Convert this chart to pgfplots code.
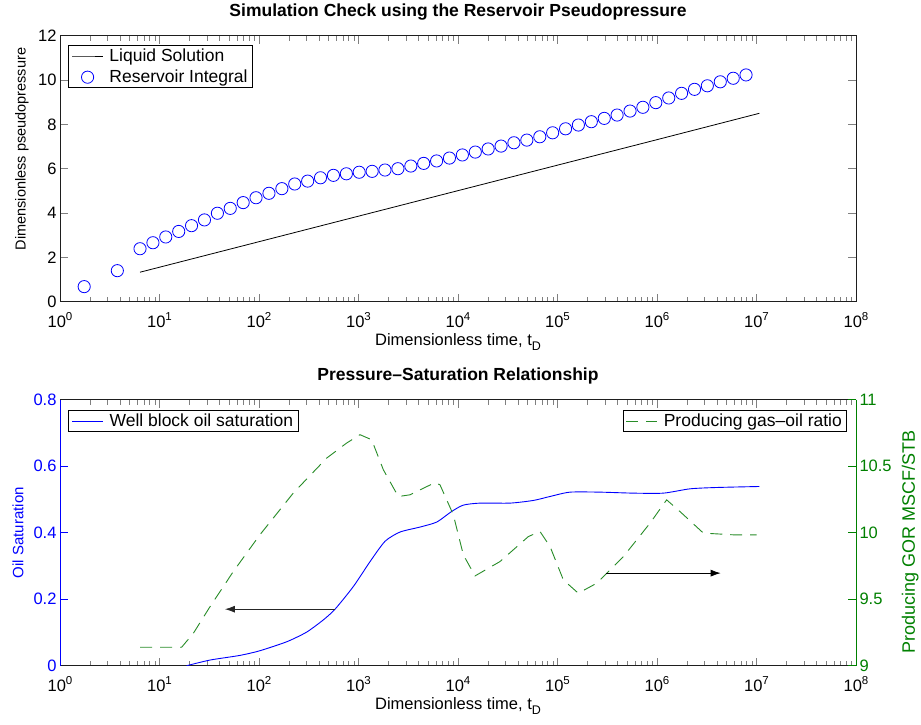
\documentclass[border=0pt]{standalone}
\usepackage{fontspec}
\setmainfont{Liberation Sans}
\usepackage{pgfplots}
\pgfplotsset{compat=1.18}
\usetikzlibrary{arrows.meta}

\definecolor{gorgreen}{RGB}{0,128,0}
\definecolor{gorline}{RGB}{40,140,40}
\definecolor{satblue}{RGB}{0,0,255}
\definecolor{axisgray}{RGB}{30,30,30}

\newcommand\tickfont{\fontsize{16.5}{19}\selectfont}
\newcommand\legfont{\fontsize{17.5}{20}\selectfont}
\newcommand\titlefont{\bfseries\fontsize{17.5}{20}\selectfont}
\newcommand\xlabfont{\fontsize{16.5}{19}\selectfont}
\newcommand\dec[1]{10\raisebox{0.45em}{\fontsize{11.5}{12}\selectfont #1}}
\newcommand\tD{t\raisebox{-0.32em}{\fontsize{12.5}{13}\selectfont D}}

% Shared settings of the three log-time axes
\pgfplotsset{
  every axis/.append style={
    scale only axis, width=796pt, height=266pt,
    xmode=log, xmin=1, xmax=1e8,
    xtick={1,10,100,1000,1e4,1e5,1e6,1e7,1e8},
    xticklabels={\dec{0},\dec{1},\dec{2},\dec{3},\dec{4},\dec{5},\dec{6},\dec{7},\dec{8}},
    minor xtick={2,3,4,5,6,7,8,9,
      20,30,40,50,60,70,80,90,
      200,300,400,500,600,700,800,900,
      2000,3000,4000,5000,6000,7000,8000,9000,
      2e4,3e4,4e4,5e4,6e4,7e4,8e4,9e4,
      2e5,3e5,4e5,5e5,6e5,7e5,8e5,9e5,
      2e6,3e6,4e6,5e6,6e6,7e6,8e6,9e6,
      2e7,3e7,4e7,5e7,6e7,7e7,8e7,9e7},
    /pgf/number format/assume math mode=true,
    tick label style={font=\tickfont},
    xticklabel style={anchor=base, yshift=-26pt},
    major tick length=8pt, minor tick length=5pt,
    tick style={line width=0.8pt},
    axis line style={line width=0.9pt, axisgray},
    title style={at={(axis description cs:0.5,1.049)}, anchor=base, font=\titlefont},
    xlabel style={at={(axis description cs:0.5,-0.1635)}, anchor=base, font=\xlabfont},
    legend cell align=left,
    legend style={line width=0.8pt, fill=white, font=\legfont,
      inner xsep=3pt, inner ysep=1.5pt, row sep=3pt, column sep=4pt},
    legend image code/.code={%
      \draw[mark repeat=2, mark phase=2, ##1, draw=.]
        plot coordinates {(0pt,0pt) (15.5pt,0pt) (31pt,0pt)};},
  },
}

\begin{document}
\begin{tikzpicture}
\useasboundingbox (0,0) rectangle (921pt,724pt);

% Upper panel: pseudopressure check
\begin{axis}[
  at={(60pt,422.3pt)}, anchor=south west,
  ymin=0, ymax=12, ytick={0,2,4,6,8,10,12},
  title={Simulation Check using the Reservoir Pseudopressure},
  xlabel={Dimensionless time, \tD},
  ylabel={Dimensionless pseudopressure},
  ylabel style={at={(axis description cs:-0.0433,0.574)}, anchor=base, font=\fontsize{14.5}{17}\selectfont},
  legend style={at={(axis description cs:0.0104,0.965)}, anchor=north west},
]
\addplot[black, line width=0.8pt] coordinates {
  (6.37,1.33) (100,2.707) (1e4,5.01) (1e6,7.31) (1.07e7,8.50)
};
\addlegendentry{Liquid Solution}
\addplot[only marks, mark=o, mark size=6.1pt, satblue, mark options={line width=0.8pt}] coordinates {
  (1.75,0.68) (3.77,1.40)
  (6.37,2.39) (8.59,2.66) (11.56,2.92) (15.60,3.17) (20.99,3.43) (28.31,3.69)
  (38.19,3.99) (51.40,4.21) (69.34,4.47) (93.33,4.69) (125.9,4.89) (169.8,5.10)
  (228.6,5.31) (308.3,5.44) (415.0,5.59) (559.8,5.70) (755.1,5.77) (1016,5.84)
  (1371,5.88) (1845,5.94) (2489,6.00) (3357,6.12) (4519,6.24) (6095,6.35)
  (8204,6.48) (11066,6.62) (14928,6.75) (20091,6.89) (27102,7.02) (36475,7.17)
  (49204,7.29) (66374,7.44) (89331,7.62) (120504,7.80) (162181,7.97) (218776,8.12)
  (295121,8.27) (397192,8.42) (535797,8.60) (721107,8.77) (972747,8.98) (1312200,9.19)
  (1766038,9.40) (2382319,9.58) (3206269,9.74) (4325138,9.92) (5834451,10.08) (7852356,10.23)
};
\addlegendentry{Reservoir Integral}
\end{axis}

% Lower panel, left scale: oil saturation
\begin{axis}[
  at={(60pt,58.3pt)}, anchor=south west,
  axis x line=box, axis y line*=left,
  ymin=0, ymax=0.8, ytick={0,0.2,0.4,0.6,0.8},
  yticklabel style={satblue, /pgf/number format/fixed},
  y axis line style={-, satblue},
  every y tick/.style={satblue},
  x axis line style={-},
  title={Pressure{\textendash}Saturation Relationship},
  xlabel={Dimensionless time, \tD},
  xlabel style={at={(axis description cs:0.5,-0.1635)}, anchor=base, font=\xlabfont},
  ylabel={Oil Saturation},
  ylabel style={at={(axis description cs:-0.0461,0.5)}, anchor=base, satblue, font=\fontsize{15}{18}\selectfont},
  legend style={at={(axis description cs:0.0104,0.961)}, anchor=north west},
]
\addplot[satblue, line width=0.9pt, smooth, tension=0.4] coordinates {
  (18.75,0) (32.2,0.017) (64.4,0.031) (102,0.045) (190,0.072) (301,0.101)
  (444,0.138) (581,0.170) (887,0.238) (1306,0.313) (1845,0.374) (2612,0.402)
  (4150,0.417) (6109,0.432) (8650,0.464) (11324,0.483) (16634,0.489) (33343,0.489)
  (57148,0.497) (84140,0.509) (133660,0.522) (267300,0.522) (578100,0.519)
  (1158800,0.519) (2147800,0.532) (3981000,0.536) (10666000,0.539)
};
\addlegendentry{Well block oil saturation}
\draw[black!85, line width=0.8pt, -{Latex[length=10pt,width=7pt]}] (axis cs:581,0.170) -- (axis cs:45.5,0.170);
\end{axis}

% Lower panel, right scale: producing gas-oil ratio
\begin{axis}[
  at={(60pt,58.3pt)}, anchor=south west,
  axis x line=none, axis y line*=right,
  ymin=9, ymax=11, ytick={9,9.5,10,10.5,11},
  yticklabel style={gorgreen},
  y axis line style={-, gorgreen},
  every y tick/.style={gorgreen},
  ylabel={Producing GOR MSCF/STB},
  ylabel style={at={(axis description cs:1.074,0.466)}, anchor=base, gorgreen, font=\fontsize{18}{21}\selectfont},
  legend style={at={(axis description cs:0.989,0.961)}, anchor=north east},
]
\addplot[gorline, line width=0.9pt, dash pattern=on 12pt off 8pt] coordinates {
  (6.37,9.139) (16.7,9.139) (21.9,9.244) (32.2,9.444) (55.2,9.708) (102,9.984)
  (221,10.298) (479,10.561) (760,10.674) (1035,10.737) (1355,10.699) (1778,10.473)
  (2512,10.272) (3296,10.285) (5875,10.377) (6592,10.360) (8974,10.135) (11324,9.833)
  (14825,9.675) (26424,9.783) (50933,9.971) (66681,10.009) (84140,9.896) (114550,9.645)
  (161800,9.545) (247700,9.620) (459200,9.820) (851100,10.072) (1250000,10.247)
  (1702000,10.159) (2924000,9.997) (5848000,9.984) (10046000,9.984)
};
\addlegendentry{Producing gas{\textendash}oil ratio}
\draw[black, line width=0.8pt, -{Latex[length=10pt,width=7pt]}] (axis cs:306900,9.696) -- (axis cs:4365000,9.696);
\end{axis}
\end{tikzpicture}
\end{document}
